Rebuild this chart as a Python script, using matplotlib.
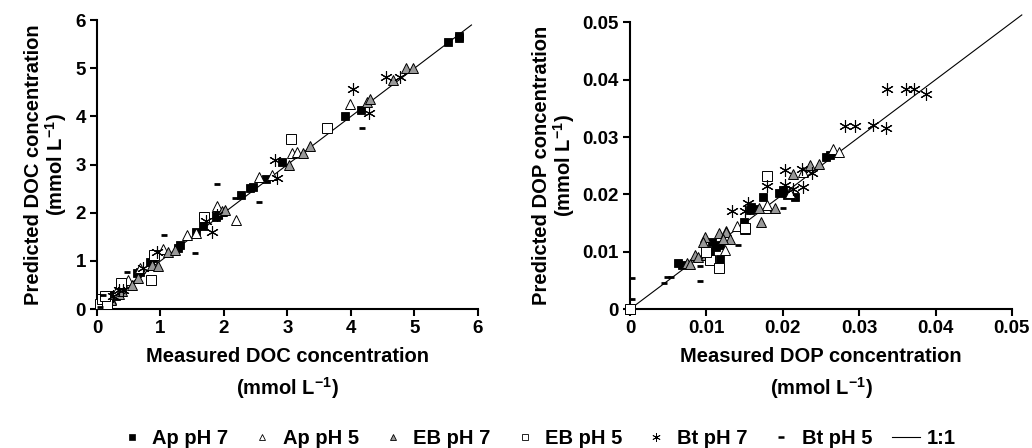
import matplotlib
matplotlib.use("Agg")
import matplotlib.pyplot as plt
from matplotlib.lines import Line2D

plt.rcParams['font.family'] = ['Liberation Sans', 'DejaVu Sans']
plt.rcParams['font.weight'] = 'bold'
plt.rcParams['mathtext.fontset'] = 'custom'
plt.rcParams['mathtext.rm'] = 'Liberation Sans:bold'
plt.rcParams['mathtext.bf'] = 'Liberation Sans:bold'

# ---- DOC data (measured, predicted), mmol/L ----
doc_ap7_x = [0.08, 0.10, 0.15, 0.18, 0.20, 0.25, 0.30, 0.35, 0.40, 0.63, 0.68, 0.83, 0.88, 1.28, 1.31,
             1.56, 1.67, 1.87, 1.91, 2.27, 2.41, 2.46, 2.66, 2.91, 3.91, 4.16, 5.53, 5.70, 5.70]
doc_ap7_y = [0.12, 0.18, 0.22, 0.30, 0.25, 0.30, 0.28, 0.38, 0.42, 0.75, 0.77, 0.98, 1.06, 1.27, 1.33,
             1.60, 1.72, 1.91, 1.95, 2.37, 2.51, 2.53, 2.70, 3.05, 4.00, 4.13, 5.54, 5.63, 5.68]
doc_ap5_x = [0.12, 0.22, 0.30, 0.49, 0.68, 1.04, 1.42, 1.56, 1.89, 2.19, 2.55, 2.76, 3.07, 3.15, 3.98]
doc_ap5_y = [0.15, 0.20, 0.35, 0.60, 0.85, 1.24, 1.54, 1.58, 2.14, 1.85, 2.74, 2.78, 3.24, 3.26, 4.25]
doc_eb7_x = [0.10, 0.22, 0.35, 0.40, 0.55, 0.65, 0.87, 0.96, 1.12, 1.23, 1.97, 2.02, 3.02, 3.24, 3.35,
             4.25, 4.30, 4.66, 4.87, 4.98]
doc_eb7_y = [0.12, 0.18, 0.32, 0.38, 0.50, 0.64, 0.91, 0.89, 1.18, 1.22, 2.03, 2.05, 3.00, 3.24, 3.38,
             4.30, 4.36, 4.75, 5.00, 5.00]
doc_eb5_x = [0.05, 0.08, 0.15, 0.12, 0.38, 0.85, 0.90, 1.69, 3.06, 3.62]
doc_eb5_y = [0.10, 0.20, 0.10, 0.28, 0.54, 0.60, 1.12, 1.91, 3.53, 3.76]
doc_bt7_x = [0.25, 0.35, 0.41, 0.72, 0.94, 1.72, 1.81, 1.89, 2.80, 2.83, 4.03, 4.28, 4.55, 4.77]
doc_bt7_y = [0.28, 0.40, 0.39, 0.85, 1.18, 1.83, 1.60, 1.95, 3.09, 2.72, 4.58, 4.07, 4.83, 4.83]
doc_bt5_x = [0.05, 0.10, 0.47, 1.06, 1.54, 1.89, 2.17, 2.55, 4.17]
doc_bt5_y = [0.05, 0.30, 0.77, 1.54, 1.16, 2.59, 2.30, 2.22, 3.76]
doc_line = [0, 5.9]

# ---- DOP data (measured, predicted), mmol/L ----
dop_ap7_x = [0, 0.0063, 0.0068, 0.0105, 0.0118, 0.0107, 0.0113, 0.0118, 0.0149, 0.0159, 0.0164, 0.0157,
             0.0174, 0.0195, 0.0200, 0.0216, 0.0205, 0.0257, 0.0262]
dop_ap7_y = [0, 0.0080, 0.0077, 0.0100, 0.0088, 0.0117, 0.0108, 0.0111, 0.0152, 0.0178, 0.0175, 0.0172,
             0.0196, 0.0203, 0.0207, 0.0196, 0.0199, 0.0265, 0.0268]
dop_ap5_x = [0, 0.0103, 0.0124, 0.0140, 0.0151, 0.0126, 0.0178, 0.0180, 0.0209, 0.0226, 0.0266, 0.0273]
dop_ap5_y = [0, 0.0094, 0.0103, 0.0145, 0.0139, 0.0137, 0.0177, 0.0182, 0.0203, 0.0239, 0.0280, 0.0274]
dop_eb7_x = [0, 0.0085, 0.0089, 0.0100, 0.0074, 0.0079, 0.0098, 0.0096, 0.0116, 0.0126, 0.0131, 0.0122,
             0.0169, 0.0190, 0.0171, 0.0213, 0.0236, 0.0248]
dop_eb7_y = [0, 0.0094, 0.0091, 0.0094, 0.0080, 0.0078, 0.0125, 0.0117, 0.0133, 0.0135, 0.0123, 0.0123,
             0.0177, 0.0177, 0.0152, 0.0235, 0.0251, 0.0253]
dop_eb5_x = [0, 0.0105, 0.0117, 0.0151, 0.0180, 0.0100]
dop_eb5_y = [0, 0.0085, 0.0071, 0.0142, 0.0232, 0.0100]
dop_bt7_x = [0.0133, 0.0151, 0.0155, 0.0179, 0.0203, 0.0227, 0.0214, 0.0203, 0.0225, 0.0238, 0.0281,
             0.0294, 0.0318, 0.0335, 0.0336, 0.0362, 0.0372, 0.0388]
dop_bt7_y = [0.0171, 0.0171, 0.0185, 0.0214, 0.0216, 0.0213, 0.0210, 0.0242, 0.0245, 0.0237, 0.0319,
             0.0319, 0.0321, 0.0316, 0.0383, 0.0384, 0.0384, 0.0376]
dop_bt5_x = [0.0002, 0.0002, 0.0044, 0.0048, 0.0053, 0.0091, 0.0092, 0.0142, 0.0200]
dop_bt5_y = [0.0055, 0.0017, 0.0046, 0.0056, 0.0056, 0.0049, 0.0075, 0.0111, 0.0177]
dop_line = [0, 0.0513]

labels = ['Ap pH 7', 'Ap pH 5', 'EB pH 7', 'EB pH 5', 'Bt pH 7', 'Bt pH 5', '1:1']

styles = [
    dict(marker='s', ms=5.5, mfc='black', mec='black', mew=0.6),
    dict(marker='^', ms=7.5, mfc='white', mec='black', mew=0.7),
    dict(marker='^', ms=7.5, mfc='#999999', mec='black', mew=0.7),
    dict(marker='s', ms=6.5, mfc='white', mec='black', mew=0.7),
    dict(marker=(6, 2, 0), ms=9, mfc='none', mec='black', mew=0.8),
    dict(marker='_', ms=5, mfc='black', mec='black', mew=2),
]

FS = 14.5      # axis labels / legend
TFS = 13.5     # tick labels

fig = plt.figure(figsize=(10.32, 4.48), dpi=100)
ax1 = fig.add_axes([0.094, 0.31, 0.369, 0.645])
ax2 = fig.add_axes([0.6105, 0.31, 0.370, 0.64])


def draw(ax, series, line):
    ax.plot(line, line, color='black', lw=0.8, clip_on=False, zorder=1)
    for (x, y), st in zip(series, styles):
        ax.plot(x, y, ls='none', clip_on=False, zorder=3, **st)
    for s in ['top', 'right']:
        ax.spines[s].set_visible(False)
    for s in ['left', 'bottom']:
        ax.spines[s].set_linewidth(1.5)
    ax.tick_params(direction='out', length=5, width=1.5, labelsize=TFS, pad=3)
    for t in ax.get_xticklabels() + ax.get_yticklabels():
        t.set_fontweight('bold')


draw(ax1, [(doc_ap7_x, doc_ap7_y), (doc_ap5_x, doc_ap5_y), (doc_eb7_x, doc_eb7_y),
           (doc_eb5_x, doc_eb5_y), (doc_bt7_x, doc_bt7_y), (doc_bt5_x, doc_bt5_y)], doc_line)
ax1.set_xlim(0, 6)
ax1.set_ylim(0, 6)
ax1.set_xticks(range(7))
ax1.set_yticks(range(7))
ax1.set_xlabel('Measured DOC concentration\n(mmol L$^{-1}$)', fontsize=FS, fontweight='bold',
               linespacing=1.45, labelpad=7)
ax1.set_ylabel('Predicted DOC concentration\n(mmol L$^{-1}$)', fontsize=FS, fontweight='bold',
               linespacing=1.0, labelpad=5)

draw(ax2, [(dop_ap7_x, dop_ap7_y), (dop_ap5_x, dop_ap5_y), (dop_eb7_x, dop_eb7_y),
           (dop_eb5_x, dop_eb5_y), (dop_bt7_x, dop_bt7_y), (dop_bt5_x, dop_bt5_y)], dop_line)
ax2.set_xlim(0, 0.05)
ax2.set_ylim(0, 0.05)
ticks = [0, 0.01, 0.02, 0.03, 0.04, 0.05]
ax2.set_xticks(ticks)
ax2.set_yticks(ticks)
ax2.set_xticklabels(['0', '0.01', '0.02', '0.03', '0.04', '0.05'], fontweight='bold')
ax2.set_yticklabels(['0', '0.01', '0.02', '0.03', '0.04', '0.05'], fontweight='bold')
ax2.set_xlabel('Measured DOP concentration\n(mmol L$^{-1}$)', fontsize=FS, fontweight='bold',
               linespacing=1.45, labelpad=7)
ax2.set_ylabel('Predicted DOP concentration\n(mmol L$^{-1}$)', fontsize=FS, fontweight='bold',
               linespacing=1.0, labelpad=4)

# legend with small markers
leg_styles = [
    dict(marker='s', ms=4, mfc='black', mec='black', mew=0.5),
    dict(marker='^', ms=5, mfc='white', mec='black', mew=0.6),
    dict(marker='^', ms=5, mfc='#999999', mec='black', mew=0.6),
    dict(marker='s', ms=5, mfc='white', mec='black', mew=0.6),
    dict(marker=(6, 2, 0), ms=6, mfc='none', mec='black', mew=0.6),
    dict(marker='_', ms=4, mfc='black', mec='black', mew=1.8),
]
handles = [Line2D([], [], ls='none', **st) for st in leg_styles]
handles.append(Line2D([], [], color='black', lw=0.8))
fig.legend(handles, labels, loc='center', bbox_to_anchor=(0.52, 0.022), ncol=7, frameon=False,
           prop={'weight': 'bold', 'size': FS}, handlelength=1.4, handletextpad=0.3,
           columnspacing=1.0, borderpad=0)

fig.savefig('out.png', dpi=100)
